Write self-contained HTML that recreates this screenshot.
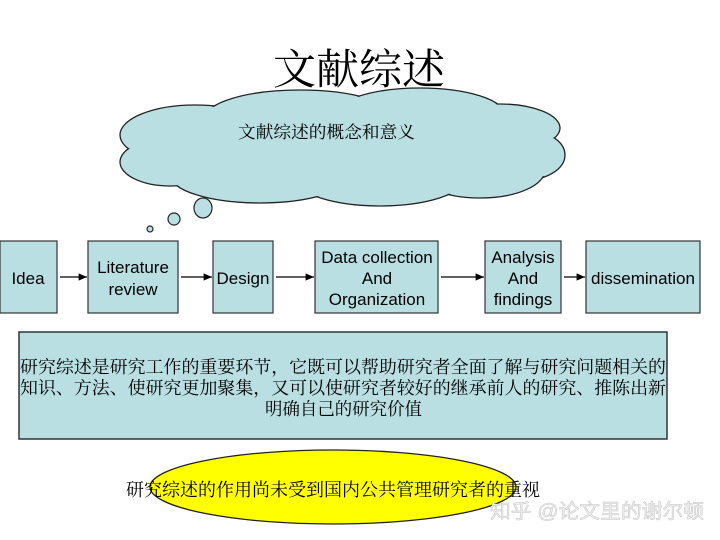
<!DOCTYPE html>
<html><head><meta charset="utf-8"><style>
body{margin:0;background:#fff;}
svg{display:block}
.s{font-family:"Liberation Serif","Noto Serif CJK SC",serif;}
.a{font-family:"Liberation Sans","Noto Sans CJK SC",sans-serif;}
</style></head><body>
<svg width="720" height="540" viewBox="0 0 720 540" xmlns="http://www.w3.org/2000/svg">
<defs><marker id="ar" markerWidth="8" markerHeight="8" refX="7" refY="4" orient="auto"><path d="M0,1 L7,4 L0,7 z" fill="#000"/></marker></defs>
<text x="359" y="84" text-anchor="middle" font-size="42" class="s" textLength="172" lengthAdjust="spacingAndGlyphs">文献综述</text>
<g stroke="#222" stroke-width="1.3" fill="#b9dfe3">
<ellipse cx="195" cy="135" rx="75" ry="30"/>
<ellipse cx="300" cy="118" rx="95" ry="28"/>
<ellipse cx="420" cy="115" rx="85" ry="27"/>
<ellipse cx="500" cy="128" rx="60" ry="24"/>
<ellipse cx="525" cy="155" rx="40" ry="25"/>
<ellipse cx="480" cy="170" rx="65" ry="28"/>
<ellipse cx="380" cy="178" rx="85" ry="28"/>
<ellipse cx="260" cy="175" rx="90" ry="28"/>
<ellipse cx="170" cy="162" rx="50" ry="24"/>
</g>
<g fill="#b9dfe3">
<ellipse cx="195" cy="135" rx="74" ry="29"/>
<ellipse cx="300" cy="118" rx="94" ry="27"/>
<ellipse cx="420" cy="115" rx="84" ry="26"/>
<ellipse cx="500" cy="128" rx="59" ry="23"/>
<ellipse cx="525" cy="155" rx="39" ry="24"/>
<ellipse cx="480" cy="170" rx="64" ry="27"/>
<ellipse cx="380" cy="178" rx="84" ry="27"/>
<ellipse cx="260" cy="175" rx="89" ry="27"/>
<ellipse cx="170" cy="162" rx="49" ry="23"/>
<ellipse cx="340" cy="150" rx="190" ry="35"/>
</g>
<g fill="#b9dfe3" stroke="#222" stroke-width="1.2">
<ellipse cx="203" cy="208" rx="9" ry="10"/>
<ellipse cx="174" cy="219" rx="6" ry="6"/>
<ellipse cx="150" cy="229" rx="3" ry="3"/>
</g>
<text x="238" y="138" font-size="17" class="s" textLength="177" lengthAdjust="spacingAndGlyphs">文献综述的概念和意义</text>
<g fill="#b9dfe3" stroke="#333" stroke-width="1.2">
<rect x="0" y="241" width="57" height="72"/>
<rect x="88" y="241" width="90" height="72"/>
<rect x="213" y="241" width="60" height="72"/>
<rect x="315" y="241" width="123" height="72"/>
<rect x="485" y="241" width="76" height="72"/>
<rect x="586" y="241" width="114" height="72"/>
</g>
<g stroke="#000" stroke-width="1.2" marker-end="url(#ar)">
<line x1="60" y1="277" x2="87" y2="277"/>
<line x1="181" y1="277" x2="212" y2="277"/>
<line x1="276" y1="277" x2="314" y2="277"/>
<line x1="441" y1="277" x2="484" y2="277"/>
<line x1="564" y1="277" x2="585" y2="277"/>
</g>
<g class="a" font-size="17" text-anchor="middle">
<text x="28" y="284">Idea</text>
<text x="133" y="273">Literature</text><text x="133" y="295">review</text>
<text x="243" y="284">Design</text>
<text x="377" y="263">Data collection</text><text x="377" y="284">And</text><text x="377" y="305">Organization</text>
<text x="523" y="263">Analysis</text><text x="523" y="284">And</text><text x="523" y="305">findings</text>
<text x="643" y="284">dissemination</text>
</g>
<rect x="19" y="332" width="648" height="107" fill="#b9dfe3" stroke="#333" stroke-width="1.5"/>
<g class="s" font-size="17.5">
<text x="20" y="373" textLength="646" lengthAdjust="spacingAndGlyphs">研究综述是研究工作的重要环节，它既可以帮助研究者全面了解与研究问题相关的</text>
<text x="20" y="394" textLength="646" lengthAdjust="spacingAndGlyphs">知识、方法、使研究更加聚集，又可以使研究者较好的继承前人的研究、推陈出新</text>
<text x="265" y="415" textLength="157" lengthAdjust="spacingAndGlyphs">明确自己的研究价值</text>
</g>
<ellipse cx="333" cy="487" rx="183" ry="37" fill="#ffff00" stroke="#222" stroke-width="1.3"/>
<text x="126" y="496" font-size="18" class="s" textLength="414" lengthAdjust="spacingAndGlyphs">研究综述的作用尚未受到国内公共管理研究者的重视</text>
<text x="490" y="518" font-size="20" class="a" fill="#f0f0f0" stroke="#c4c4c4" stroke-width="0.5" textLength="214" lengthAdjust="spacingAndGlyphs">知乎 @论文里的谢尔顿</text>
</svg>
</body></html>
